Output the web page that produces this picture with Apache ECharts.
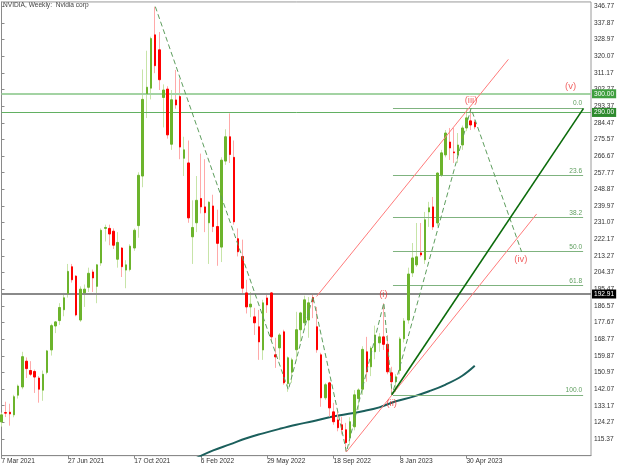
<!DOCTYPE html>
<html><head><meta charset="utf-8">
<script src="https://cdn.jsdelivr.net/npm/echarts/dist/echarts.min.js"></script>
<style>html,body{margin:0;padding:0;background:#fff}#c{width:624px;height:468px}</style>
</head><body><div id="c"></div>
<script>
// ---------- categories / ticks ----------
const monthNames = ['Jan','Feb','Mar','Apr','May','Jun','Jul','Aug','Sep','Oct','Nov','Dec'];
const startUTC = Date.UTC(2021, 2, 7);
const totalWeeks = 143;
const categories = [];
for (let i = 0; i < totalWeeks; i++) {
  const d = new Date(startUTC + i * 7 * 86400000);
  categories.push(d.getUTCDate() + ' ' + monthNames[d.getUTCMonth()] + ' ' + d.getUTCFullYear());
}
const tickLabels = ['7 Mar 2021','27 Jun 2021','17 Oct 2021','6 Feb 2022','29 May 2022','18 Sep 2022','8 Jan 2023','30 Apr 2023'];
const yTickStart = 106.47, yTickStep = 8.9, yMax = 349.1;

// ---------- weekly OHLC ----------
const opens = [124.5,129.5,129.7,128.3,138.8,143.2,157,152,151.5,148,141.5,151,163,175.8,178.7,184.5,193,207.5,202.5,179,
193.5,196.5,204.7,197,209.5,228,228,226.5,211.5,217.5,205.7,206,217.5,229.5,256,300,303,331.5,323.5,298,
302.5,273,296.7,298.5,265.5,263,223.5,231,244,239.5,231,240,229,218,264,277,266,222.5,213,193.5,
186,180.7,175.4,163,190.8,193.5,160.4,164.1,172.7,145,151.1,163.1,173.8,177.5,179,191,175.4,160.4,137.4,145.4,
129.9,125.6,123,120.3,116,121.9,137,142,162,154,162,166.8,170,166,150.8,146,152,169,179,204.2,
208.5,214.9,211.2,236.8,239.5,230.9,256.6,267.3,274.2,268.9,267.3,272.6,281.7,285.5,284.9];
const highs = [129.5,135.3,134.2,139,144.5,162,159,157,152.5,149,152,163,177,178.5,188,193.5,209,209,203,197,
198,207,206,209,228,230,230,228,226,218,211,219.5,228,258,313,323,330.5,346.5,333,305,
304,302,312.7,308,277,275,243,256,268,265,242.5,246,238,266,281,289.5,275,228,222,200.5,
194,185.5,184.4,189.8,193.5,194,169.5,172,173.8,159.5,158.8,183.4,183.4,192,191.3,192.7,186,161.5,145.4,146,
134.7,130,127.3,124,127,141.5,142.5,165,170,165,176,172,188,171,154,150,170,180,207,220.2,
230.9,230.9,236.8,242.2,244.8,258,270,280.6,281.7,281.7,279,283,292.4,291.3,286];
const lows = [122,127.1,122.5,127,137,142,148,149,140,134.8,135.8,150,160,172,176.4,181,191,199,181,178,
186,194,194,188,208,221,219,217,207,202,196,205,216,223,250,287,297,311,302,282,
276,270,292,265,256,231,209,226,236,226,209,226,208,210,262,263,230,213,193.5,182.5,
180.5,171,157.7,157.7,182.8,167.3,153.4,157.7,144.4,140.6,145.4,157.7,167.3,173.8,169.5,180,161.5,132.6,136.3,127.3,
123,119.5,117.8,108.6,112,120,131,139,146,149,158,162,163,150,139.5,140.5,150,167,177,202,
207.4,212.8,209,228.8,227.2,229,255.5,266,264.6,263,263,270,280,280.6,281];
const closes = [128.3,129.2,128.8,138,143.7,159.4,153,150,148.5,142,150,162.5,176,178,185.7,190.9,205,200.5,181.7,195.5,
195.5,204,201.5,208.5,227,228.5,225,219,220.5,207.5,208.5,218.5,227,256.4,297,303.5,329.5,315,307.5,302,
278,296.8,294,271.5,270,233.6,228.5,243,239.5,236.4,242,229,220,264.5,277,267.5,231.5,215.5,196,186,
187.5,177.5,167.3,188.2,187.1,170,159.3,171,145.4,158.8,157.7,173.8,182.8,189.8,188.2,189,163.1,137.4,144.4,132,
124.6,121.4,120.3,113.4,124.6,139,141.6,163.3,151.3,164,171,170,166,151.3,146,148.6,168.9,178.5,203.6,212.2,
212.8,213.8,232.6,239,228.8,257.6,268.4,279,271,268.4,272.6,281.7,287.1,283.3,282.3];

// ---------- moving average ----------
const maWeek = [47,51,55,59,63,67,71,75,79,83,87,91,95,99,103,107,111,114];
const maValue = [105.3,109.3,112.5,115.8,118.4,120.8,123,124.9,127,128.6,130.2,132.3,135.6,137.9,140.9,144.5,149.2,154.5];

// ---------- drawn annotations ----------
const zigzagWeek = [37.05,69.1,75,83.1,92.1,94.1,113.1,125.3];
const zigzagValue = [346.6,141.7,191.6,108.5,188.2,139,292.2,215.4];
const redLine1Week = [75.9,122.1], redLine1Value = [191.6,318.4];
const redLine2Week = [83.1,128.9], redLine2Value = [108.5,235.7];
const greenLineWeek = [94,140.2], greenLineValue = [139,292.2];
const fibHigh = 292.4, fibLow = 139.0;
const fibRatios = [0, 23.6, 38.2, 50.0, 61.8, 100.0];
const fibStartWeek = 94.3, fibEndWeek = 140.1;
const priceLevels = [300.00, 290.00, 192.91];
const waveNames = ['(i)','(ii)','(iii)','(iv)','(v)'];
const waveWeek = [92,94,113.1,125.1,137.1];
const waveValue = [192.5,134.6,296.7,211.5,304.2];

const FONT = 'Liberation Sans';
const wickData = opens.map((o,i)=>[o, closes[i], lows[i], highs[i]]);
const bodyData = opens.map((o,i)=>[o, closes[i], Math.min(o,closes[i]), Math.max(o,closes[i])]);
const pairs = (xs, ys) => xs.map((x,i)=>[x, ys[i]]);

const levelStyles = [
  {line:{color:'#a3d3a3', width:2, type:'solid'}, bg:'#3f9f3f'},
  {line:{color:'#62b062', width:1, type:'solid'}, bg:'#2d8a2d'},
  {line:{color:'#8a8a8a', width:2, type:'solid'}, bg:'#000000'}
];

const showTick = (idx) => tickLabels.indexOf(categories[idx]) >= 0;

const chart = echarts.init(document.getElementById('c'), null, {renderer:'canvas'});
chart.setOption({
  animation: false,
  backgroundColor: '#ffffff',
  title: {text:'NVIDIA, Weekly:  Nvidia corp', left:3, top:2, padding:0,
    textStyle:{fontSize:6.6, fontWeight:'normal', color:'#444', fontFamily:FONT}},
  grid: {left:1.5, right:33, top:1.94, bottom:12.35, show:true, borderColor:'#9a9a9a', borderWidth:1,
    containLabel:false, outerBoundsMode:'none'},
  xAxis: [
    {type:'category', data:categories, boundaryGap:false,
     axisLine:{lineStyle:{color:'#8a8a8a'}},
     axisTick:{interval:showTick, length:3, lineStyle:{color:'#8a8a8a'}},
     axisLabel:{interval:showTick, align:'left', fontSize:6.6, color:'#333', margin:2, fontFamily:FONT},
     splitLine:{show:false}},
    {type:'value', min:0, max:totalWeeks-1, show:false}
  ],
  yAxis: {type:'value', position:'right', min:yTickStart, max:yMax, interval:yTickStep, scale:true,
    splitLine:{show:false},
    axisLine:{show:true, lineStyle:{color:'#8a8a8a'}},
    axisTick:{show:true, length:3, lineStyle:{color:'#8a8a8a'}},
    axisLabel:{fontSize:6.6, color:'#333', margin:3, showMinLabel:false, showMaxLabel:false,
      fontFamily:FONT, formatter:v=>v.toFixed(2)}},
  series: [
    {type:'line', xAxisIndex:1, data:pairs(maWeek, maValue), smooth:0.4, symbol:'none',
     lineStyle:{color:'#1b5f5c', width:2}, z:3},
    {type:'candlestick', xAxisIndex:0, data:wickData, barWidth:1,
     itemStyle:{color:'#c7e4a8', color0:'#ffa9a9', borderColor:'#c7e4a8', borderColor0:'#ffa9a9', borderWidth:1}, z:4},
    {type:'candlestick', xAxisIndex:0, data:bodyData, barWidth:2,
     itemStyle:{color:'#6cb42c', color0:'#ff0000', borderColor:'#6cb42c', borderColor0:'#ff0000', borderWidth:1}, z:5},
    {type:'line', xAxisIndex:1, data:[], clip:false, z:6,
     markLine:{silent:true, symbol:'none', animation:false,
       data: priceLevels.map((p,k)=>({yAxis:p, lineStyle:levelStyles[k].line,
         label:{show:true, position:'end', distance:1, formatter:p.toFixed(2), color:'#fff',
           backgroundColor:levelStyles[k].bg, padding:[1,2,0,2], fontSize:6.6, lineHeight:8, fontFamily:FONT}}))}},
    {type:'line', xAxisIndex:1, data:[], z:6,
     markLine:{silent:true, symbol:'none', animation:false,
       lineStyle:{color:'#7fb37f', width:1, type:'solid'},
       label:{show:true, position:'insideEndTop', distance:1, color:'#5e9e5e', fontSize:6.6, fontFamily:FONT},
       data: fibRatios.map(r=>{const v = fibHigh - r/100*(fibHigh-fibLow);
         return [{coord:[fibStartWeek, v]}, {coord:[fibEndWeek, v], label:{formatter:r.toFixed(1)}}];})}},
    {type:'line', xAxisIndex:1, data:pairs(zigzagWeek, zigzagValue), symbol:'none',
     lineStyle:{color:'#5e9e5e', width:1, type:[5,3]}, z:7},
    {type:'line', xAxisIndex:1, data:pairs(redLine1Week, redLine1Value), symbol:'none',
     lineStyle:{color:'#ff7b7b', width:1}, z:7},
    {type:'line', xAxisIndex:1, data:pairs(redLine2Week, redLine2Value), symbol:'none',
     lineStyle:{color:'#ff7b7b', width:1}, z:7},
    {type:'line', xAxisIndex:1, data:pairs(greenLineWeek, greenLineValue), symbol:'none',
     lineStyle:{color:'#0b6b0b', width:1.6}, z:7},
    {type:'scatter', xAxisIndex:1, symbolSize:1, itemStyle:{color:'rgba(0,0,0,0)'}, z:8,
     data: waveNames.map((n,k)=>({name:n, value:[waveWeek[k], waveValue[k]]})),
     label:{show:true, position:'inside', formatter:'{b}', color:'#ee3a3a', fontSize:9.5, fontFamily:FONT}}
  ]
});
</script>
</body></html>
